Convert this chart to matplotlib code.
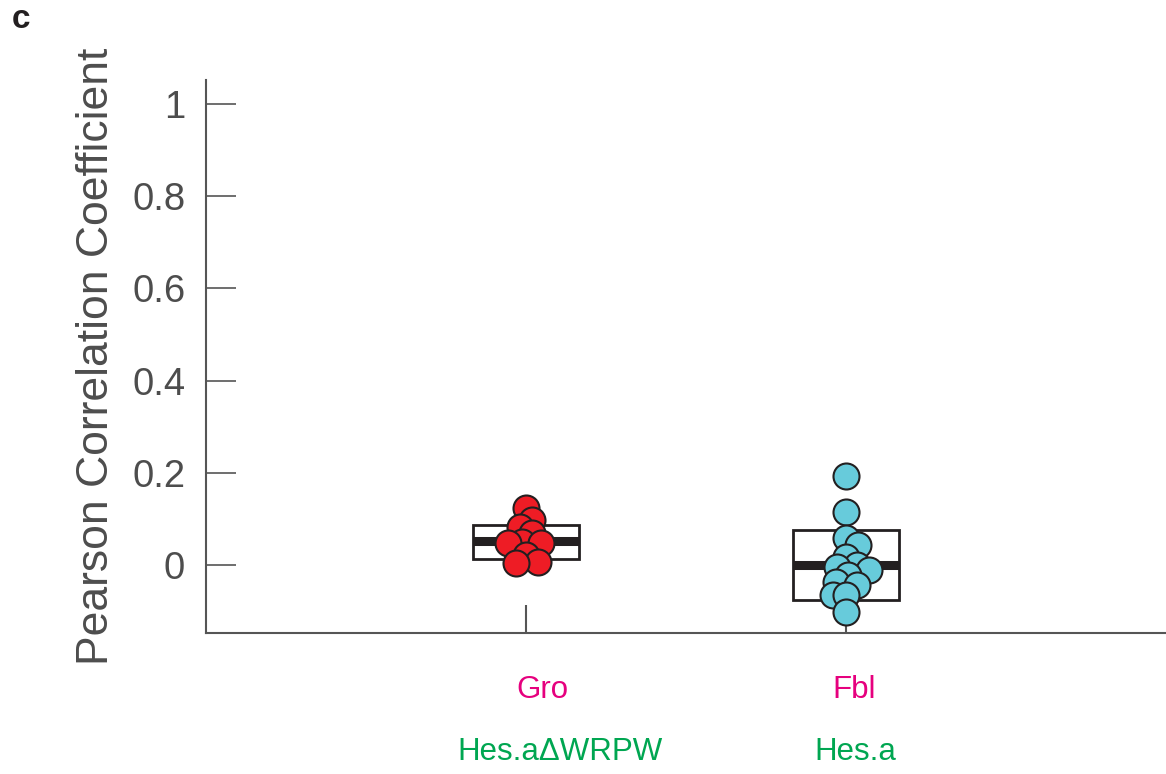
import numpy as np
import matplotlib
matplotlib.use("Agg")
import matplotlib.pyplot as plt
from matplotlib.patches import Rectangle
import matplotlib.transforms as mtransforms

plt.rcParams['font.family'] = ['Liberation Sans', 'DejaVu Sans']

# ---- data ----
partners = ["Gro", "Fbl"]
constructs = ["Hes.aΔWRPW", "Hes.a"]
gro_values = [0.124, 0.098, 0.082, 0.069, 0.050, 0.048, 0.048, 0.022, 0.007, 0.004]
fbl_values = [0.193, 0.115, 0.058, 0.043, 0.017, 0.000, -0.004, -0.011, -0.022,
              -0.037, -0.043, -0.065, -0.065, -0.102]
box_q1 = [0.013, -0.076]
box_median = [0.052, 0.000]
box_q3 = [0.087, 0.076]
whisker_low = [-0.087, -0.125]
yticks = [0, 0.2, 0.4, 0.6, 0.8, 1]
yticklabels = ["0", "0.2", "0.4", "0.6", "0.8", "1"]

point_colors = ["#EE1C25", "#67CBDB"]
partner_color = "#E6007E"
construct_color = "#00A651"
text_gray = "#4D4D4D"

W, H = 1166, 774
fig = plt.figure(figsize=(W / 100, H / 100), dpi=100)
ax = fig.add_axes([206 / W, (H - 633) / H, (W - 206) / W, (633 - 80) / H])
ax.set_xlim(0, 3)
ax.set_ylim(-0.1475, 1.052)

for s in ["top", "right"]:
    ax.spines[s].set_visible(False)
for s in ["left", "bottom"]:
    ax.spines[s].set_color("#555555")
    ax.spines[s].set_linewidth(1.5)

ax.set_yticks(yticks)
ax.set_yticklabels(yticklabels)
ax.tick_params(axis="y", direction="in", length=21.6, width=1.2, color="#555555",
               labelsize=27.5, labelcolor=text_gray, pad=15)
ax.set_xticks([])
ax.set_ylabel("Pearson Correlation Coefficient", fontsize=32, color=text_gray, labelpad=11)

positions = [1, 2]
box_w = 0.33

# pixel scale for swarm layout
fig.canvas.draw()
px_per_x = ax.bbox.width / 3.0
px_per_y = ax.bbox.height / (1.052 + 0.1475)
radius_px = 13


def swarm_offsets(vals):
    order = np.argsort(vals)[::-1]
    placed = []
    offs = np.zeros(len(vals))
    min_d = 2 * radius_px * 0.5
    for i in order:
        yv = vals[i] * px_per_y
        cands = [0.0]
        for k in range(1, 40):
            cands += [k * 1.5, -k * 1.5]
        for c in cands:
            ok = all((c - px) ** 2 + (yv - py) ** 2 >= min_d ** 2 for px, py in placed)
            if ok:
                offs[i] = c
                placed.append((c, yv))
                break
    return offs / px_per_x


all_vals = [gro_values, fbl_values]
for i, pos in enumerate(positions):
    # lower whisker stub
    ax.vlines(pos, -0.1475, whisker_low[i], color="#555555", lw=1.5, zorder=1)
    rect = Rectangle((pos - box_w / 2, box_q1[i]), box_w, box_q3[i] - box_q1[i],
                     facecolor="white", edgecolor="#231F20", lw=2, zorder=2)
    ax.add_patch(rect)
    ax.hlines(box_median[i], pos - box_w / 2, pos + box_w / 2, color="#231F20",
              lw=6.5, zorder=3)
    vals = np.array(all_vals[i])
    offs = swarm_offsets(vals)
    ax.scatter(pos + offs, vals, s=(2 * radius_px * 0.72) ** 2, facecolor=point_colors[i],
               edgecolor="#231F20", linewidth=1.5, zorder=4, clip_on=False)

trans = mtransforms.blended_transform_factory(ax.transData, ax.transAxes)
label_dx = [0.05, 0.025]
for i, pos in enumerate(positions):
    ax.text(pos + label_dx[i], -0.103, partners[i], transform=trans, ha="center",
            va="center", fontsize=22.5, color=partner_color)
    ax.text(pos + label_dx[i] + (0.055 if i == 0 else 0.005), -0.215, constructs[i],
            transform=trans, ha="center", va="center", fontsize=22.5, color=construct_color)

fig.text(12 / W, 1 - 19 / H, "c", fontsize=24, fontweight="bold", ha="left", va="center",
         color="#231F20")

fig.savefig("out.png", dpi=100)
